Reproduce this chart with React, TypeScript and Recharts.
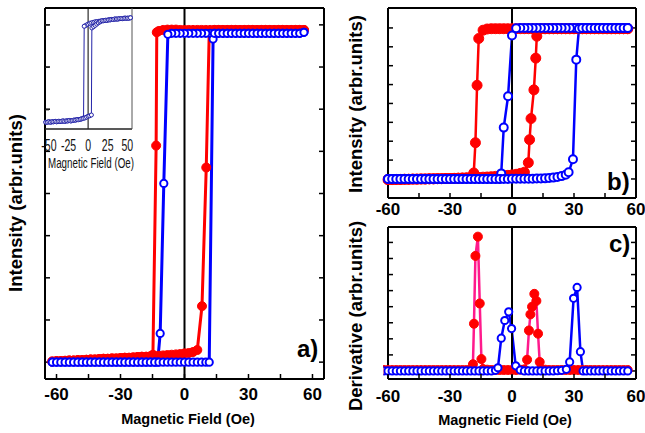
import React from 'react';
import { LineChart, Line, XAxis, YAxis, ReferenceLine } from 'recharts';

type Pt = { x: number; y: number };

// ---------- panel a) main loop ----------
const aRedHighX = [-12, -10, -8, -6, -4, -2, 0, 2, 4, 6, 8, 10, 12, 14, 16, 18, 20, 22, 24, 26, 28, 30, 32, 34, 36, 38, 40, 42, 44, 46, 48, 50, 52, 54, 56];
const aRedHighY = [0.982, 0.985, 0.986, 0.986, 0.986, 0.985, 0.985, 0.985, 0.985, 0.985, 0.985, 0.985, 0.985, 0.985, 0.985, 0.985, 0.985, 0.985, 0.985, 0.985, 0.985, 0.985, 0.985, 0.985, 0.985, 0.985, 0.985, 0.985, 0.985, 0.985, 0.985, 0.985, 0.985, 0.985, 0.985];
const aRedLowX = [-62, -60, -58, -56, -54, -52, -50, -48, -46, -44, -42, -40, -38, -36, -34, -32, -30, -28, -26, -24, -22, -20, -18, -16, -14, -12, -10, -8, -6, -4, -2, 0, 2, 4, 6];
const aRedLowY = [0.002, 0.003, 0.003, 0.004, 0.005, 0.005, 0.006, 0.006, 0.007, 0.008, 0.008, 0.009, 0.01, 0.01, 0.011, 0.011, 0.012, 0.013, 0.013, 0.014, 0.015, 0.016, 0.016, 0.017, 0.018, 0.019, 0.02, 0.021, 0.022, 0.023, 0.024, 0.026, 0.027, 0.03, 0.036];
const aRedDownX = [-13.0, -13.3, -14.8];
const aRedDownY = [0.978, 0.642, 0.022];
const aRedUpX = [8.2, 10.2, 11.6];
const aRedUpY = [0.166, 0.577, 0.98];

const aBlueHighX = [-6, -4, -2, 0, 2, 4, 6, 8, 10, 12, 14, 16, 18, 20, 22, 24, 26, 28, 30, 32, 34, 36, 38, 40, 42, 44, 46, 48, 50, 52, 54, 56];
const aBlueHighY = [0.975, 0.975, 0.975, 0.975, 0.975, 0.975, 0.975, 0.975, 0.975, 0.975, 0.975, 0.975, 0.975, 0.975, 0.975, 0.975, 0.975, 0.975, 0.975, 0.975, 0.975, 0.975, 0.975, 0.975, 0.975, 0.975, 0.975, 0.975, 0.975, 0.975, 0.975, 0.978];
const aBlueLowX = [-62, -60, -58, -56, -54, -52, -50, -48, -46, -44, -42, -40, -38, -36, -34, -32, -30, -28, -26, -24, -22, -20, -18, -16, -14, -12, -10, -8, -6, -4, -2, 0, 2, 4, 6, 8, 10];
const aBlueLowY = [0.0, 0.0, 0.0, 0.0, 0.0, 0.0, 0.0, 0.0, 0.0, 0.0, 0.0, 0.0, 0.0, 0.0, 0.0, 0.0, 0.0, 0.0, 0.0, 0.0, 0.0, 0.0, 0.0, 0.0, 0.0, 0.0, 0.0, 0.0, 0.0, 0.0, 0.0, 0.0, 0.0, 0.0, 0.0, 0.0, 0.0];
const aBlueDownX = [-7.8, -9.7, -11.4, -12.6];
const aBlueDownY = [0.972, 0.53, 0.085, 0.0];
const aBlueUpX = [11.6, 13.4];
const aBlueUpY = [0.0, 0.958];

// ---------- inset of panel a) ----------
const iHighX = [-4, -2, 0, 2, 4, 6, 8, 10, 12, 14, 16, 18, 20, 22, 24, 26, 28, 30, 32, 34, 36, 38, 40, 42, 44, 46, 48, 50, 52, 54];
const iHighY = [1.98, 2.0, 2.02, 2.04, 2.05, 2.06, 2.07, 2.08, 2.08, 2.09, 2.09, 2.1, 2.1, 2.11, 2.11, 2.12, 2.12, 2.13, 2.13, 2.14, 2.14, 2.14, 2.15, 2.15, 2.15, 2.16, 2.16, 2.16, 2.16, 2.17];
const iLowX = [-54, -52, -50, -48, -46, -44, -42, -40, -38, -36, -34, -32, -30, -28, -26, -24, -22, -20, -18, -16, -14, -12, -10, -8, -6, -4, -2, 0, 2];
const iLowY = [-0.29, -0.29, -0.28, -0.29, -0.28, -0.28, -0.27, -0.28, -0.27, -0.27, -0.27, -0.26, -0.27, -0.26, -0.26, -0.25, -0.26, -0.25, -0.24, -0.24, -0.23, -0.23, -0.22, -0.21, -0.2, -0.19, -0.17, -0.15, -0.14];
const iDownX = [-5.0, -5.8];
const iDownY = [1.97, -0.19];
const iUpX = [4.2, 4.8, 7, 9, 11, 13, 15];
const iUpY = [-0.12, 1.93, 1.96, 1.99, 2.02, 2.05, 2.07];

// ---------- panel b) ----------
const bRedHighX = [-14, -12, -10, -8, -6, -4, -2, 0, 2, 4, 6, 8, 10, 12, 14, 16, 18, 20, 22, 24, 26, 28, 30, 32, 34, 36, 38, 40, 42, 44, 46, 48, 50, 52, 54, 56];
const bRedHighY = [0.985, 0.993, 0.995, 0.995, 0.995, 0.995, 0.995, 0.995, 0.995, 0.995, 0.995, 0.995, 0.995, 0.995, 0.995, 0.995, 0.995, 0.995, 0.995, 0.995, 0.995, 0.995, 0.995, 0.995, 0.995, 0.995, 0.995, 0.995, 0.995, 0.995, 0.995, 0.995, 0.995, 0.995, 0.995, 0.995];
const bRedLowX = [-60, -58, -56, -54, -52, -50, -48, -46, -44, -42, -40, -38, -36, -34, -32, -30, -28, -26, -24, -22, -20, -18, -16, -14, -12, -10, -8, -6, -4, -2, 0, 2, 4, 6];
const bRedLowY = [-0.004, -0.004, -0.003, -0.003, -0.002, -0.002, -0.001, -0.001, 0.0, 0.0, 0.001, 0.001, 0.002, 0.002, 0.003, 0.003, 0.004, 0.005, 0.006, 0.007, 0.008, 0.009, 0.01, 0.012, 0.013, 0.015, 0.017, 0.019, 0.021, 0.024, 0.027, 0.031, 0.037, 0.045];
const bRedDownX = [-16.1, -16.9, -17.7, -18.5];
const bRedDownY = [0.93, 0.62, 0.24, 0.04];
const bRedUpX = [7.9, 8.5, 9.2, 10.6, 11.5, 12.0];
const bRedUpY = [0.108, 0.26, 0.4, 0.59, 0.8, 0.945];

const bBlueHighX = [2, 4, 6, 8, 10, 12, 14, 16, 18, 20, 22, 24, 26, 28, 30, 32, 34, 36, 38, 40, 42, 44, 46, 48, 50, 52, 54, 56];
const bBlueHighY = [0.998, 1.0, 1.0, 1.0, 1.0, 1.0, 1.0, 1.0, 1.0, 1.0, 1.0, 1.0, 1.0, 1.0, 1.0, 1.0, 1.0, 1.0, 1.0, 1.0, 1.0, 1.0, 1.0, 1.0, 1.0, 1.0, 1.0, 1.0];
const bBlueLowX = [-60, -58, -56, -54, -52, -50, -48, -46, -44, -42, -40, -38, -36, -34, -32, -30, -28, -26, -24, -22, -20, -18, -16, -14, -12, -10, -8, -6, -4, -2, 0, 2, 4, 6, 8, 10, 12, 14, 16, 18, 20, 22, 24, 26];
const bBlueLowY = [0.0, 0.0, 0.0, 0.0, 0.0, 0.0, 0.0, 0.0, 0.0, 0.0, 0.0, 0.0, 0.0, 0.0, 0.0, 0.0, 0.0, 0.0, 0.0, 0.0, 0.0, 0.0, 0.0, 0.0, 0.0, 0.0, 0.0, 0.0, 0.0, 0.0, 0.001, 0.001, 0.001, 0.002, 0.002, 0.002, 0.003, 0.003, 0.004, 0.006, 0.009, 0.013, 0.019, 0.028];
const bBlueDownX = [0.0, -1.9, -4.0, -5.2];
const bBlueDownY = [0.95, 0.548, 0.34, 0.037];
const bBlueUpX = [27.4, 29.5, 31.1, 32.4];
const bBlueUpY = [0.044, 0.13, 0.79, 0.995];

// ---------- panel c) derivative ----------
const cBaseX = [-62, -60, -58, -56, -54, -52, -50, -48, -46, -44, -42, -40, -38, -36, -34, -32, -30, -28, -26, -24, -22, -20, -18, -16, -14, -12, -10, -8, -6, -4, -2, 0, 2, 4, 6, 8, 10, 12, 14, 16, 18, 20, 22, 24, 26, 28, 30, 32, 34, 36, 38, 40, 42, 44, 46, 48, 50, 52, 54, 56];
const cRedBaseY = [0.03, 0.03, 0.03, 0.03, 0.03, 0.03, 0.03, 0.03, 0.03, 0.03, 0.03, 0.03, 0.03, 0.03, 0.03, 0.03, 0.03, 0.03, 0.03, 0.03, 0.03, 0.04, 0.04, 0.04, 0.06, 0.04, 0.03, 0.03, 0.03, 0.03, 0.03, 0.03, 0.03, 0.04, 0.05, 0.05, 0.05, 0.05, 0.05, 0.04, 0.03, 0.03, 0.03, 0.03, 0.03, 0.03, 0.03, 0.03, 0.03, 0.03, 0.03, 0.03, 0.03, 0.03, 0.03, 0.03, 0.03, 0.03, 0.03, 0.03];
const cBlueBaseY = [0, 0, 0, 0, 0, 0, 0, 0, 0, 0, 0, 0, 0, 0, 0, 0, 0, 0, 0, 0, 0, 0, 0, 0, 0, 0, 0, 0.02, 0, 0, 0, 0, 0, 0.03, 0, 0, 0, 0, 0, 0, 0, 0, 0.01, 0.02, 0, 0, 0, 0, 0, 0, 0, 0, 0, 0, 0, 0, 0, 0, 0, 0];
const cRedPeak1X = [-18.9, -18.4, -17.7, -16.5, -15.6, -14.8];
const cRedPeak1Y = [0.21, 1.47, 3.58, 4.18, 2.1, 0.37];
const cRedPeak2X = [7.3, 8.2, 8.9, 9.7, 10.8, 11.8, 12.6, 13.4];
const cRedPeak2Y = [0.35, 1.26, 1.76, 2.0, 2.4, 2.18, 1.16, 0.28];
const cBluePeak1X = [-6.8, -5.2, -3.5, -1.6, -0.2, 1.8];
const cBluePeak1Y = [0.1, 1.02, 1.57, 1.84, 1.32, 0.16];
const cBluePeak2X = [26.3, 27.9, 29.8, 31.5, 33.1, 34.4];
const cBluePeak2Y = [0.05, 0.28, 2.26, 2.6, 0.6, 0.0];

// ---------- ticks ----------
const xTicks = [-60, -45, -30, -15, 0, 15, 30, 45, 60];
const loopYTicks = [0, 0.125, 0.25, 0.375, 0.5, 0.625, 0.75, 0.875, 1];
const derivYTicks = [0, 0.5, 1, 1.5, 2, 2.5, 3, 3.5, 4];
const insetXLabels = [-50, -25, 0, 25, 50];
const insetYTicks = [0, 1, 2];

const FONT = "'Liberation Sans', Arial, sans-serif";
const RED = '#ff0000';
const BLUE = '#0000ff';
const PINK = '#ff1a8c';
const NAVY = '#2323a8';

const zip = (xs: number[], ys: number[]): Pt[] => xs.map((x, i) => ({ x, y: ys[i] }));

// field swept from + to -: upper plateau, jump, lower plateau
function sweepDown(hx: number[], hy: number[], jx: number[], jy: number[], lx: number[], ly: number[]): Pt[] {
  const hi = zip(hx, hy).filter(p => p.x > jx[0] + 0.5).sort((a, b) => b.x - a.x);
  const lo = zip(lx, ly).filter(p => p.x < jx[jx.length - 1] - 0.5).sort((a, b) => b.x - a.x);
  return [...hi, ...zip(jx, jy), ...lo];
}

// field swept from - to +: lower plateau, jump, upper plateau
function sweepUp(lx: number[], ly: number[], jx: number[], jy: number[], hx: number[], hy: number[]): Pt[] {
  const lo = zip(lx, ly).filter(p => p.x < jx[0] - 0.5).sort((a, b) => a.x - b.x);
  const hi = zip(hx, hy).filter(p => p.x > jx[jx.length - 1] + 0.5).sort((a, b) => a.x - b.x);
  return [...lo, ...zip(jx, jy), ...hi];
}

function withPeaks(bx: number[], by: number[], peaks: [number[], number[]][]): Pt[] {
  const pts = zip(bx, by).filter(p => !peaks.some(([px]) => p.x > Math.min(...px) - 0.5 && p.x < Math.max(...px) + 0.5));
  peaks.forEach(([px, py]) => pts.push(...zip(px, py)));
  return pts.sort((a, b) => a.x - b.x);
}

interface Series {
  data: Pt[];
  stroke: string;
  width: number;
  dot: { r: number; fill: string; stroke: string; strokeWidth: number };
}

const filled = (r: number) => ({ r, fill: RED, stroke: RED, strokeWidth: 1 });
const hollow = (r: number) => ({ r, fill: '#fff', stroke: BLUE, strokeWidth: 2 });

const panelA: Series[] = [
  { data: sweepDown(aRedHighX, aRedHighY, aRedDownX, aRedDownY, aRedLowX, aRedLowY), stroke: RED, width: 3, dot: filled(4.5) },
  { data: sweepUp(aRedLowX, aRedLowY, aRedUpX, aRedUpY, aRedHighX, aRedHighY), stroke: RED, width: 3, dot: filled(4.5) },
  { data: sweepDown(aBlueHighX, aBlueHighY, aBlueDownX, aBlueDownY, aBlueLowX, aBlueLowY), stroke: BLUE, width: 3, dot: hollow(3.6) },
  { data: sweepUp(aBlueLowX, aBlueLowY, aBlueUpX, aBlueUpY, aBlueHighX, aBlueHighY), stroke: BLUE, width: 3, dot: hollow(3.6) },
];

const panelB: Series[] = [
  { data: sweepDown(bRedHighX, bRedHighY, bRedDownX, bRedDownY, bRedLowX, bRedLowY), stroke: RED, width: 2.5, dot: filled(5) },
  { data: sweepUp(bRedLowX, bRedLowY, bRedUpX, bRedUpY, bRedHighX, bRedHighY), stroke: RED, width: 2.5, dot: filled(5) },
  { data: sweepDown(bBlueHighX, bBlueHighY, bBlueDownX, bBlueDownY, bBlueLowX, bBlueLowY), stroke: BLUE, width: 2.5, dot: hollow(4) },
  { data: sweepUp(bBlueLowX, bBlueLowY, bBlueUpX, bBlueUpY, bBlueHighX, bBlueHighY), stroke: BLUE, width: 2.5, dot: hollow(4) },
];

const panelC: Series[] = [
  { data: withPeaks(cBaseX, cRedBaseY, [[cRedPeak1X, cRedPeak1Y], [cRedPeak2X, cRedPeak2Y]]), stroke: PINK, width: 2.5, dot: filled(4.5) },
  { data: withPeaks(cBaseX, cBlueBaseY, [[cBluePeak1X, cBluePeak1Y], [cBluePeak2X, cBluePeak2Y]]), stroke: BLUE, width: 2.5, dot: hollow(3.6) },
];

const insetDot = { r: 2, fill: '#fff', stroke: NAVY, strokeWidth: 1 };
const panelInset: Series[] = [
  { data: sweepDown(iHighX, iHighY, iDownX, iDownY, iLowX, iLowY), stroke: NAVY, width: 1, dot: insetDot },
  { data: sweepUp(iLowX, iLowY, iUpX, iUpY, iHighX, iHighY), stroke: NAVY, width: 1, dot: insetDot },
];

const axisStyle = { stroke: '#000', strokeWidth: 2 };
const tickStyle = { stroke: '#000', strokeWidth: 1.5 };
const noTick = () => <g />;

// bottom axis tick: inward tick mark plus bold label every 30 Oe
const makeBottomTick = (gap: number) => (props: any) => {
  const { x, y, payload } = props;
  const axisY = y - gap;
  return (
    <g>
      <line x1={x} x2={x} y1={axisY} y2={axisY - 5} stroke="#000" strokeWidth={1.5} />
      {payload.value % 30 === 0 && (
        <text x={x} y={y} dy="0.71em" textAnchor="middle" fontSize={17} fontWeight={700} fontFamily={FONT} fill="#000">
          {payload.value}
        </text>
      )}
    </g>
  );
};

interface PanelProps {
  box: [number, number, number, number];
  margin: { top: number; right: number; bottom: number; left: number };
  xDomain: [number, number];
  yDomain: [number, number];
  yTicks: number[];
  labelGap: number;
  series: Series[];
}

const Panel: React.FC<PanelProps> = ({ box, margin, xDomain, yDomain, yTicks, labelGap, series }) => {
  const BottomTick = makeBottomTick(labelGap);
  return (
    <div style={{ position: 'absolute', left: box[0], top: box[1] }}>
      <LineChart width={box[2]} height={box[3]} margin={margin}>
        <XAxis xAxisId="x" dataKey="x" type="number" domain={xDomain} allowDataOverflow ticks={xTicks} interval={0}
          height={1} tickSize={0} tickMargin={labelGap} tickLine={false} axisLine={axisStyle} tick={<BottomTick />} />
        <XAxis xAxisId="xt" orientation="top" type="number" domain={xDomain} allowDataOverflow ticks={xTicks} interval={0}
          height={30} mirror tickSize={5} tick={noTick} tickLine={tickStyle} axisLine={axisStyle} />
        <YAxis yAxisId="y" type="number" domain={yDomain} allowDataOverflow ticks={yTicks} interval={0}
          width={30} mirror tickSize={5} tick={noTick} tickLine={tickStyle} axisLine={axisStyle} />
        <YAxis yAxisId="yr" orientation="right" type="number" domain={yDomain} allowDataOverflow ticks={yTicks} interval={0}
          width={30} mirror tickSize={5} tick={noTick} tickLine={tickStyle} axisLine={axisStyle} />
        {series.map((s, i) => (
          <Line key={i} xAxisId="x" yAxisId="y" data={s.data} dataKey="y" type="linear" stroke={s.stroke} strokeWidth={s.width}
            dot={{ ...s.dot, clipDot: false }} activeDot={false} isAnimationActive={false} />
        ))}
        <ReferenceLine xAxisId="x" yAxisId="y" x={0} stroke="#000" strokeWidth={2} />
      </LineChart>
    </div>
  );
};

const InsetTick = (props: any) => {
  const { x, y, payload } = props;
  return (
    <text transform={`translate(${x},${y}) scale(0.62,1)`} textAnchor="middle" dy="0.71em" fontSize={17} fontFamily={FONT} fill="#111">
      {payload.value}
    </text>
  );
};

const Inset: React.FC = () => (
  <div style={{ position: 'absolute', left: 0, top: 0 }}>
    <LineChart width={140} height={175} margin={{ top: 8, right: 8, bottom: 45, left: 45 }}>
      <XAxis xAxisId="x" dataKey="x" type="number" domain={[-55, 56]} allowDataOverflow ticks={insetXLabels} interval={0}
        height={1} tickSize={0} tickMargin={10} tickLine={false} axisLine={{ stroke: '#222', strokeWidth: 1.5 }} tick={<InsetTick />} />
      <YAxis yAxisId="y" type="number" domain={[-0.45, 2.4]} allowDataOverflow ticks={insetYTicks} interval={0}
        width={30} mirror tickSize={4} tick={noTick} tickLine={{ stroke: '#222', strokeWidth: 1 }} axisLine={false} />
      <YAxis yAxisId="yr" orientation="right" type="number" domain={[-0.45, 2.4]} allowDataOverflow ticks={insetYTicks}
        width={30} mirror tick={false} tickLine={false} axisLine={{ stroke: '#555', strokeWidth: 1 }} />
      {panelInset.map((s, i) => (
        <Line key={i} xAxisId="x" yAxisId="y" data={s.data} dataKey="y" type="linear" stroke={s.stroke} strokeWidth={s.width}
          dot={{ ...s.dot, clipDot: false }} activeDot={false} isAnimationActive={false} />
      ))}
      <ReferenceLine xAxisId="x" yAxisId="y" x={0} stroke="#000" strokeWidth={1} />
    </LineChart>
  </div>
);

const boldText = { fontFamily: FONT, fontWeight: 700, fill: '#000' } as const;

export default function App() {
  return (
    <div style={{ position: 'absolute', left: 0, top: 0, width: 645, height: 433, background: '#fff', overflow: 'hidden' }}>
      <Panel box={[0, 0, 330, 433]} margin={{ top: 8, right: 6, bottom: 53, left: 45 }} xDomain={[-65.4, 65.4]}
        yDomain={[-0.05, 1.05]} yTicks={loopYTicks} labelGap={9} series={panelA} />
      <Inset />
      <Panel box={[330, 0, 315, 230]} margin={{ top: 8, right: 9, bottom: 31, left: 58 }} xDomain={[-60, 60]}
        yDomain={[-0.126, 1.132]} yTicks={loopYTicks} labelGap={5} series={panelB} />
      <Panel box={[330, 215, 315, 218]} margin={{ top: 12, right: 9, bottom: 53, left: 58 }} xDomain={[-60, 60]}
        yDomain={[-0.25, 4.48]} yTicks={derivYTicks} labelGap={11} series={panelC} />
      <svg width={645} height={433} style={{ position: 'absolute', left: 0, top: 0, pointerEvents: 'none' }}>
        <text x={21.5} y={203} transform="rotate(-90 21.5 203)" textAnchor="middle" fontSize={18.5} {...boldText}>Intensity (arbr.units)</text>
        <text x={362} y={104} transform="rotate(-90 362 104)" textAnchor="middle" fontSize={18.5} {...boldText}>Intensity (arbr.units)</text>
        <text x={362} y={316} transform="rotate(-90 362 316)" textAnchor="middle" fontSize={18.5} {...boldText}>Derivative (arbr.units)</text>
        <text x={188} y={424} textAnchor="middle" fontSize={14.5} {...boldText}>Magnetic Field (Oe)</text>
        <text x={505} y={424.5} textAnchor="middle" fontSize={14.5} {...boldText}>Magnetic Field (Oe)</text>
        <text transform="translate(91,168) scale(0.7,1)" textAnchor="middle" fontSize={14} fontFamily={FONT} fill="#111">Magnetic Field (Oe)</text>
        <text x={297} y={357} fontSize={24} {...boldText}>a)</text>
        <text x={607} y={190} fontSize={24} {...boldText}>b)</text>
        <text x={609} y={252} fontSize={24} {...boldText}>c)</text>
      </svg>
    </div>
  );
}
